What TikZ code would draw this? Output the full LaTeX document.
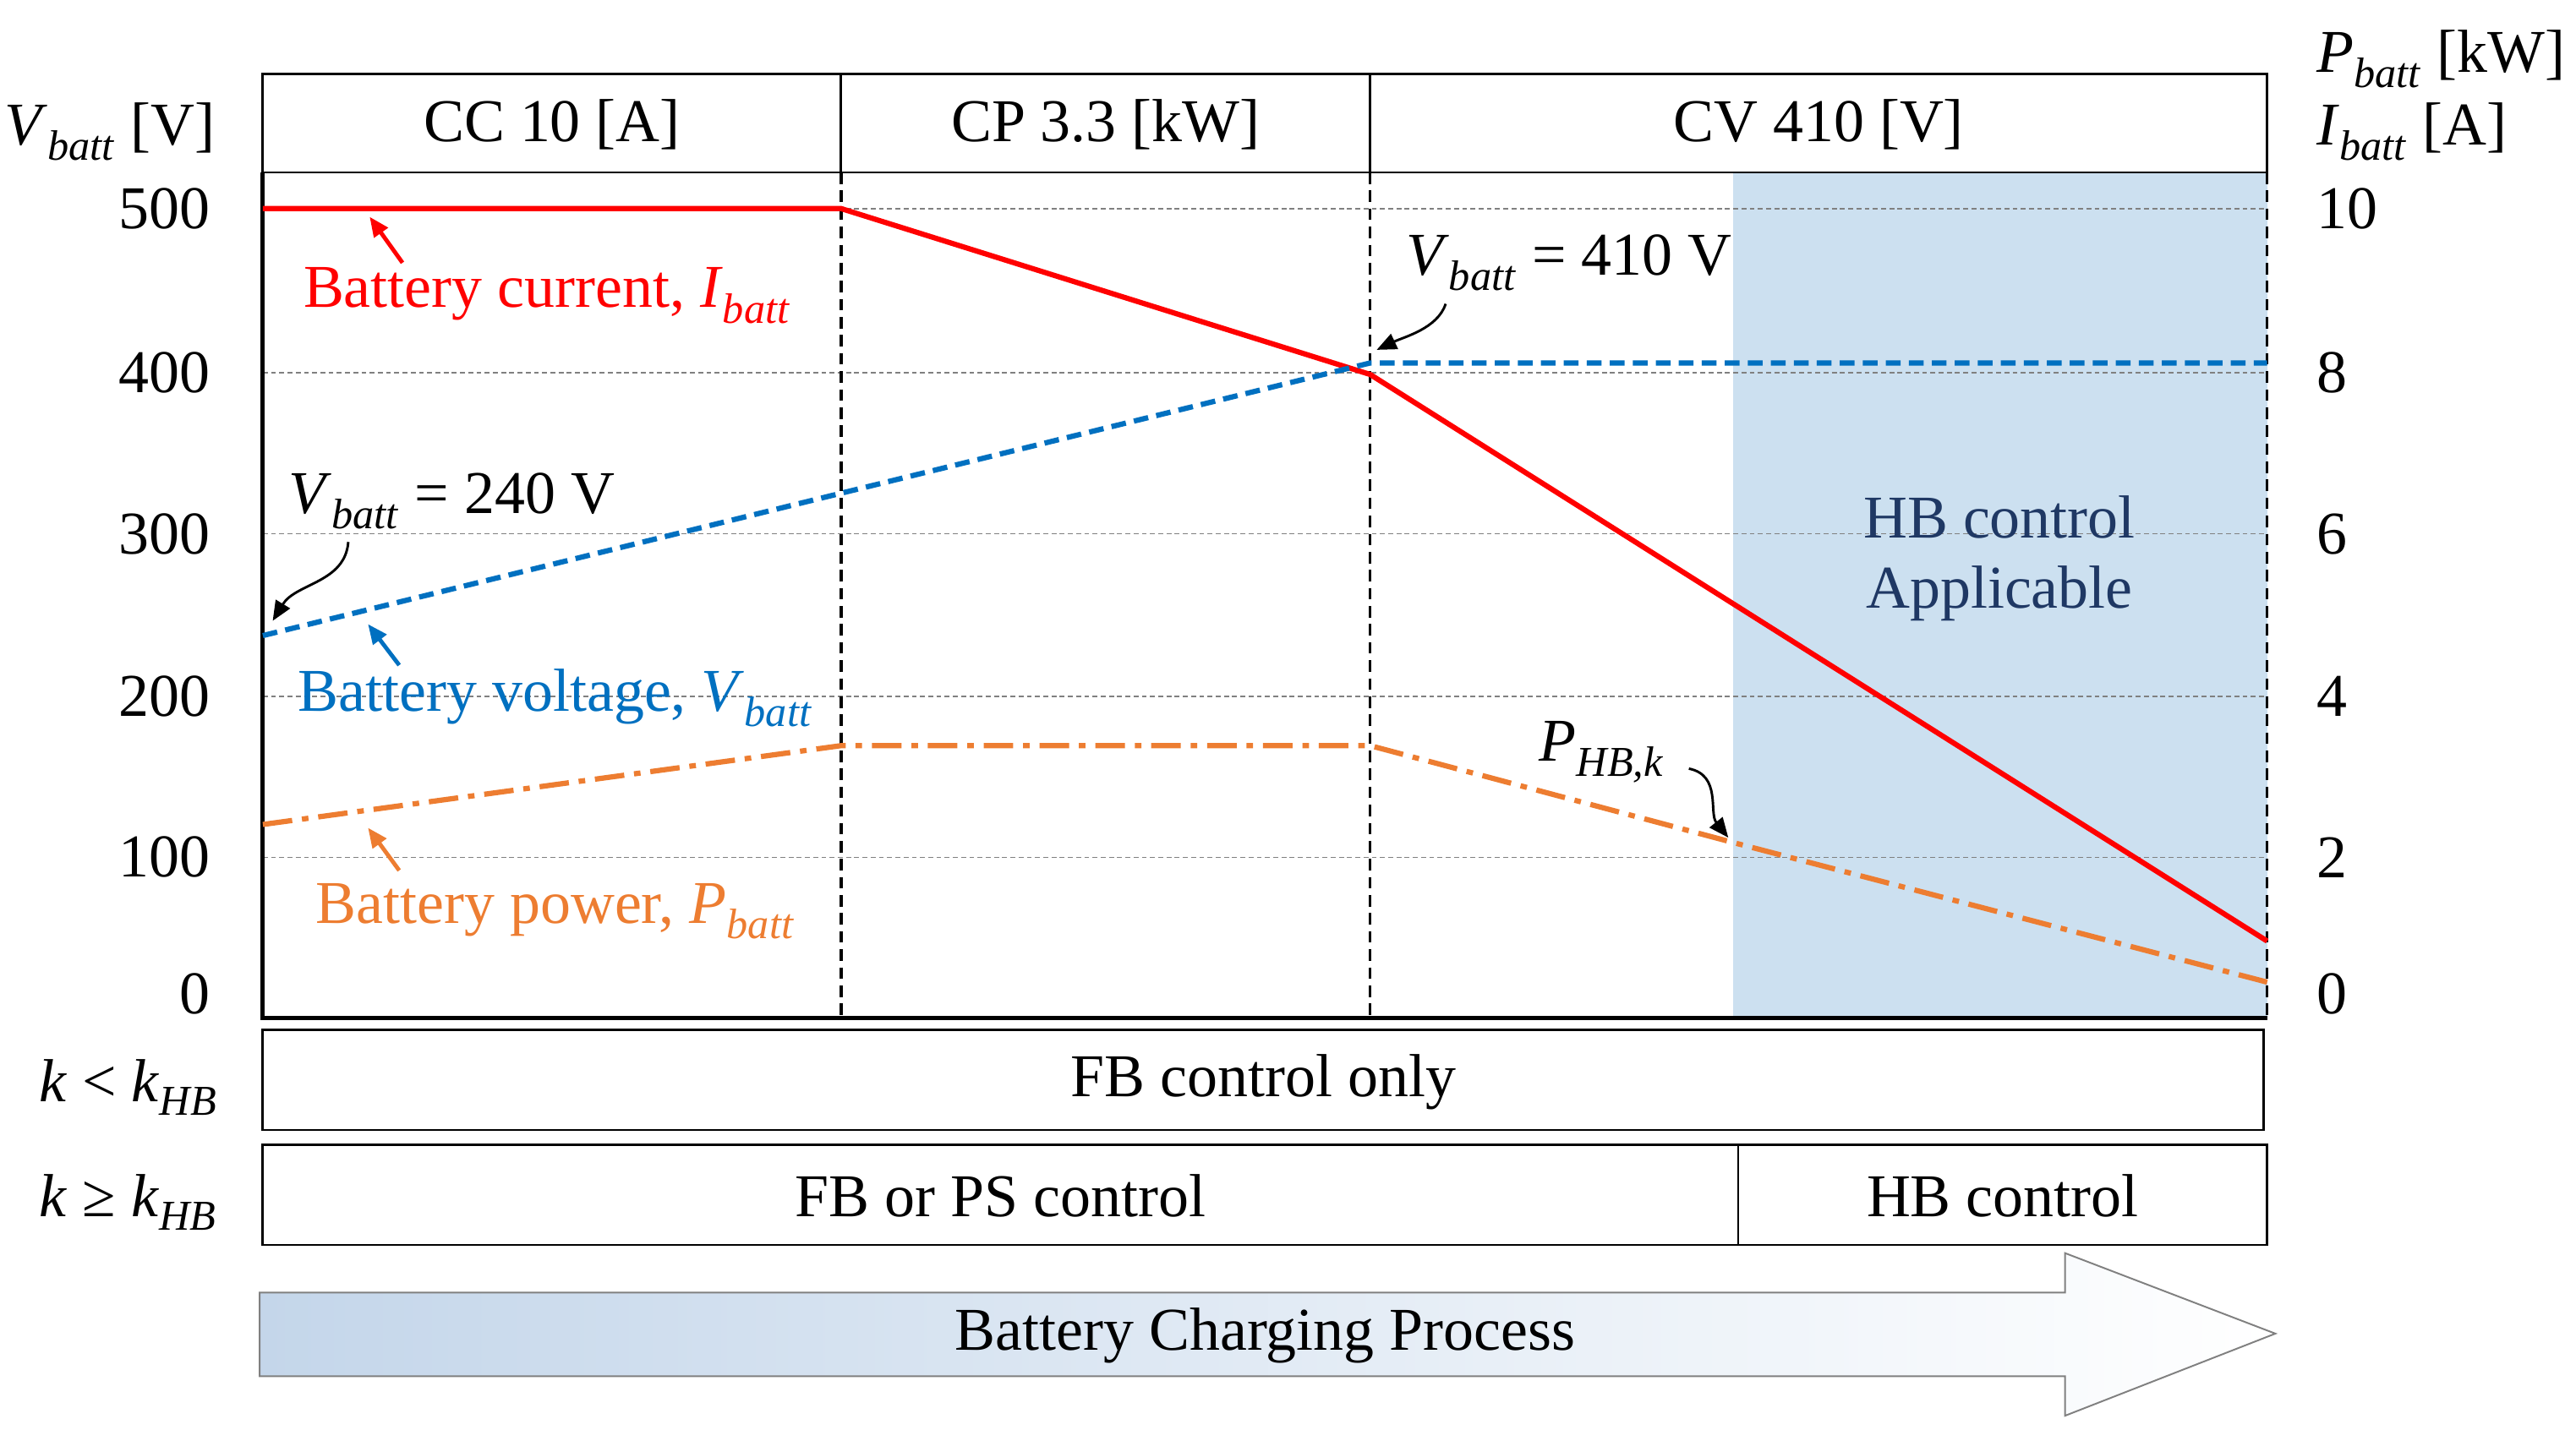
\documentclass[tikz,border=0pt]{standalone}
\usepackage{fontspec}
\setmainfont{Liberation Serif}
\usetikzlibrary{arrows.meta,shapes.arrows}
\definecolor{cred}{RGB}{255,0,0}
\definecolor{cblue}{RGB}{0,112,192}
\definecolor{corange}{RGB}{237,125,49}
\definecolor{cshade}{RGB}{204,224,240}
\definecolor{cnavy}{RGB}{31,56,100}
\definecolor{cgrad}{RGB}{196,214,234}
\newcommand{\vsub}[2]{\textit{#1}\textsubscript{\textit{#2}}}
\begin{document}
\begin{tikzpicture}[x=1pt,y=-1pt,
  txt/.style={font=\fontsize{37}{43}\selectfont,inner sep=0pt},
  box/.style={draw,line width=1.5pt},
  grid/.style={gray,dash pattern=on 3pt off 2pt,line width=0.8pt},
  vd/.style={black,dash pattern=on 7pt off 4pt,line width=1.6pt},
  ann/.style={-{Triangle[length=12pt,width=10pt]},line width=2.5pt},
  cann/.style={-{Triangle[length=12pt,width=10pt]},line width=1.5pt}]
\useasboundingbox (0,0) rectangle (1568,877);
\fill[cshade] (1055,105) rectangle (1380,620);
\draw[box] (160,45) rectangle (1380,105);
\draw[box] (512,45) -- (512,105) (834,45) -- (834,105);
\node[txt] (hcc) at (336,76) {CC 10 [A]};
\node[txt] (hcp) at (673,76) {CP 3.3 [kW]};
\node[txt] (hcv) at (1107,76) {CV 410 [V]};
\foreach \yy in {127,227,325,424,522}{\draw[grid] (160,\yy) -- (1380,\yy);}
\draw[vd] (512,105) -- (512,620);
\draw[vd] (834,105) -- (834,620);
\draw[vd] (1380,105) -- (1380,620);
\draw[line width=2.5pt] (160,105) -- (160,620) -- (1380,620);
\foreach \v/\yy in {500/127,400/227,300/325,200/424,100/522,0/605}{\node[txt,anchor=east] at (128,\yy) {\v};}
\foreach \v/\yy in {10/127,8/227,6/325,4/424,2/522,0/605}{\node[txt,anchor=west] at (1410,\yy) {\v};}
\node[txt] (vl) at (67,80) {\vsub{V}{batt} [V]};
\node[txt,anchor=west] (pl) at (1410,36) {\vsub{P}{batt} [kW]};
\node[txt,anchor=west] (il) at (1410,80) {\vsub{I}{batt} [A]};
\draw[cred,line width=3.2pt] (160,127) -- (512,127) -- (834,228) -- (1380,573);
\draw[cblue,line width=3.2pt,dash pattern=on 9pt off 5pt] (160,387) -- (834,221) -- (1380,221);
\draw[corange,line width=3.2pt,dash pattern=on 18pt off 6pt on 4pt off 6pt] (160,502) -- (512,454) -- (834,454) -- (1055,513) -- (1380,598);
\node[txt,text=cred] (lcur) at (333,180) {Battery current, \vsub{I}{batt}};
\draw[ann,cred] (245,160) -- (225,132);
\node[txt,text=cblue] (lvol) at (338,425) {Battery voltage, \vsub{V}{batt}};
\draw[ann,cblue] (243,405) -- (224,380);
\node[txt,text=corange] (lpow) at (338,555) {Battery power, \vsub{P}{batt}};
\draw[ann,corange] (243,530) -- (224,504);
\node[txt] (l240) at (275,305) {\vsub{V}{batt} = 240 V};
\draw[cann] (212,330) .. controls (210,355) and (180,355) .. (166,378);
\node[txt] (l410) at (955,160) {\vsub{V}{batt} = 410 V};
\draw[cann] (880,185) .. controls (875,200) and (855,205) .. (838,213);
\node[txt] (lphb) at (975,458) {\vsub{P}{HB,k}};
\draw[cann] (1028,468) .. controls (1048,472) and (1040,495) .. (1052,510);
\node[txt,text=cnavy,align=center] (hbapp) at (1217,340) {HB control\\Applicable};
\draw[box] (160,627) rectangle (1378,688);
\node[txt] (fb) at (769,659) {FB control only};
\node[txt] (k1) at (78,662) {\textit{k} \textless{} \vsub{k}{HB}};
\draw[box] (160,697) rectangle (1380,758);
\draw[box] (1058,697) -- (1058,758);
\node[txt] (fbps) at (609,728) {FB or PS control};
\node[txt] (hbc) at (1219,728) {HB control};
\node[txt] (k2) at (78,732) {\textit{k} ≥ \vsub{k}{HB}};
\shade[left color=cgrad,right color=white,draw=gray,line width=1pt]
  (158,787) -- (1257,787) -- (1257,763) -- (1385,812) -- (1257,862) -- (1257,838) -- (158,838) -- cycle;
\node[txt] (proc) at (770,813) {Battery Charging Process};
\end{tikzpicture}
\end{document}
